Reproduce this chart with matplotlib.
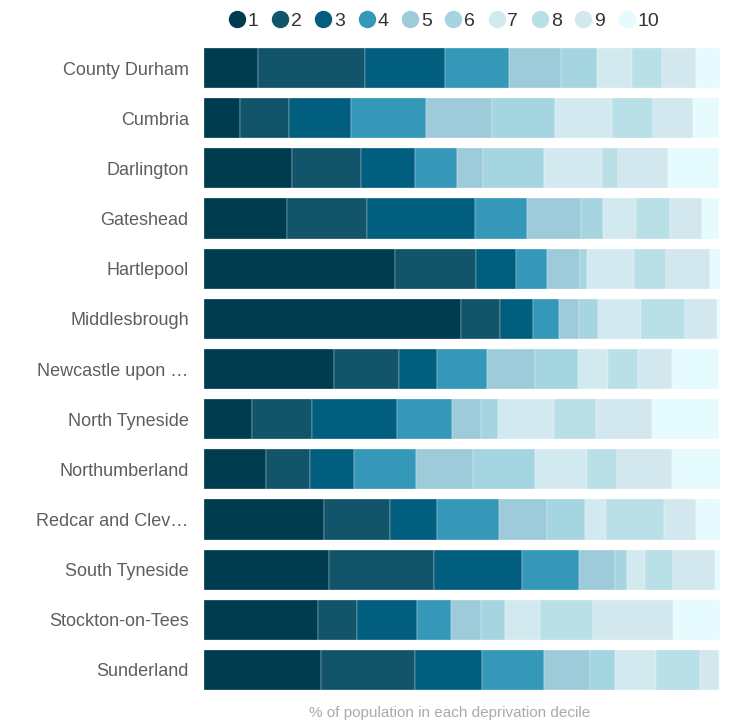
import numpy as np
import matplotlib.pyplot as plt
from matplotlib.lines import Line2D

plt.rcParams['font.family'] = ['Liberation Sans', 'DejaVu Sans']

# Local authorities (top to bottom)
areas = ['County Durham', 'Cumbria', 'Darlington', 'Gateshead', 'Hartlepool',
         'Middlesbrough', 'Newcastle upon \u2026', 'North Tyneside',
         'Northumberland', 'Redcar and Clev\u2026', 'South Tyneside',
         'Stockton-on-Tees', 'Sunderland']

deciles = ['1', '2', '3', '4', '5', '6', '7', '8', '9', '10']

# % of population in each deprivation decile, one list per decile
d1 = [10.5, 7.0, 17.0, 16.1, 37.0, 49.9, 25.1, 9.3, 12.0, 23.2, 24.3, 22.0, 22.7]
d2 = [20.7, 9.5, 13.4, 15.5, 15.8, 7.4, 12.6, 11.7, 8.6, 12.8, 20.2, 7.6, 18.2]
d3 = [15.5, 12.0, 10.5, 20.9, 7.6, 6.4, 7.4, 16.4, 8.4, 9.2, 17.2, 11.7, 13.0]
d4 = [12.5, 14.6, 8.2, 10.0, 6.1, 5.1, 9.7, 10.7, 12.0, 11.9, 10.9, 6.5, 12.0]
d5 = [10.0, 12.8, 4.9, 10.5, 6.4, 3.8, 9.3, 5.6, 11.2, 9.3, 7.0, 5.9, 8.9]
d6 = [6.9, 12.2, 11.9, 4.3, 1.3, 3.7, 8.4, 3.3, 12.0, 7.4, 2.4, 4.6, 4.9]
d7 = [6.9, 11.0, 11.2, 6.4, 9.2, 8.4, 5.7, 10.8, 10.0, 4.1, 3.5, 6.9, 7.8]
d8 = [5.8, 8.0, 3.2, 6.7, 6.2, 8.6, 5.9, 8.1, 5.8, 11.2, 5.3, 10.1, 8.6]
d9 = [6.6, 7.6, 9.6, 6.1, 8.4, 6.1, 6.6, 11.0, 10.7, 6.3, 8.2, 15.5, 3.8]
d10 = [4.6, 5.1, 10.0, 3.4, 2.0, 0.6, 9.2, 13.0, 9.4, 4.6, 1.0, 9.2, 0.1]

colors = ['#003c50', '#12546a', '#025e7e', '#3598b8', '#9dcbda',
          '#a5d5e0', '#d2e9ef', '#b9dfe7', '#d2e8ee', '#e6fbfe']

values = np.array([d1, d2, d3, d4, d5, d6, d7, d8, d9, d10])
ypos = np.arange(len(areas))

fig = plt.figure(figsize=(7.33, 7.22), dpi=100)
ax = fig.add_axes([204 / 733, 1 - 695 / 722, 516 / 733, 652 / 722])

left = np.zeros(len(areas))
for i in range(len(deciles)):
    ax.barh(ypos, values[i], left=left, height=0.8, color=colors[i],
            edgecolor='white', linewidth=0.2)
    left += values[i]

ax.set_xlim(0, 100)
ax.set_ylim(len(areas) - 0.5, -0.5)
ax.set_yticks(ypos)
ax.set_yticklabels(areas, fontsize=13, color='#5e5e5e')
ax.tick_params(axis='y', length=0, pad=11)
ax.set_xticks([])
for s in ax.spines.values():
    s.set_visible(False)

# axis caption under the bars
fig.text(450 / 733, 1 - 713 / 722, '% of population in each deprivation decile',
         ha='center', va='center', fontsize=11, color='#aaaaaa')

# legend row of circles along the top
handles = [Line2D([], [], marker='o', linestyle='', markersize=11.5,
                  markerfacecolor=c, markeredgecolor=c) for c in colors]
fig.legend(handles, deciles, loc='center', bbox_to_anchor=(443 / 733, 1 - 21 / 722),
           ncol=10, frameon=False, fontsize=14, handletextpad=0.05,
           columnspacing=0.62, handlelength=1.0, labelcolor='#333333')

fig.savefig('out.png', dpi=100)
